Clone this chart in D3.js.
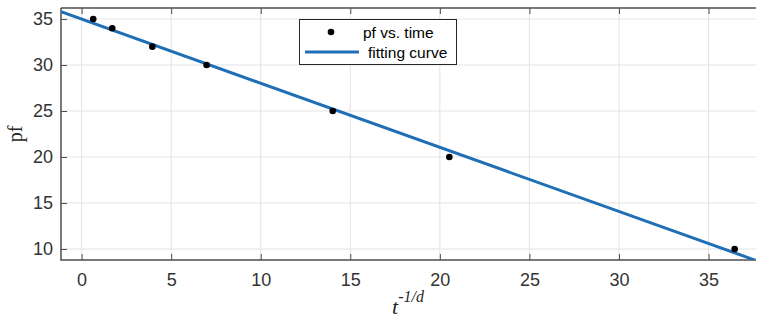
<!DOCTYPE html>
<html>
<head>
<meta charset="utf-8">
<script src="https://cdn.jsdelivr.net/npm/d3@7"></script>
<style>
  body { margin: 0; background: #fff; }
  svg { display: block; font-family: "Liberation Sans", Arial, sans-serif; }
</style>
</head>
<body>
<div id="chart"></div>
<script>
// measured points (pf vs. time)
const xData = [0.65, 1.71, 3.95, 6.98, 14.02, 20.53, 36.46];
const pfData = [35, 34, 32, 30, 25, 20, 10];
// fitted line: pf = a + b * x
const fitA = 34.99;
const fitB = -0.697;
const xTicks = [0, 5, 10, 15, 20, 25, 30, 35];
const yTicks = [10, 15, 20, 25, 30, 35];

const width = 758, height = 320;
const margin = { top: 8, right: 2, bottom: 60, left: 61 };

const svg = d3.select('#chart').append('svg')
  .attr('width', width)
  .attr('height', height);

const x = d3.scaleLinear()
  .domain([-1.15, 37.65])
  .range([margin.left, width - margin.right]);

const y = d3.scaleLinear()
  .domain([8.8, 36.2])
  .range([height - margin.bottom, margin.top]);

const axisColor = '#4d4d4d';
const x0 = margin.left, x1 = width - margin.right;
const y0 = height - margin.bottom, y1 = margin.top;

// grid
const grid = svg.append('g').attr('stroke', '#e3e3e3').attr('stroke-width', 1);
grid.selectAll('.vg').data(xTicks).join('line')
  .attr('x1', d => x(d)).attr('x2', d => x(d))
  .attr('y1', y1).attr('y2', y0);
grid.selectAll('.hg').data(yTicks).join('line')
  .attr('x1', x0).attr('x2', x1)
  .attr('y1', d => y(d)).attr('y2', d => y(d));

// axes (inward ticks, box style)
const tickSize = 6;
const axes = svg.append('g');

axes.append('g')
  .attr('transform', `translate(0,${y0})`)
  .call(d3.axisBottom(x).tickValues(xTicks).tickSize(-tickSize).tickPadding(13))
  .call(g => g.select('.domain').remove());

axes.append('g')
  .attr('transform', `translate(0,${y1})`)
  .call(d3.axisTop(x).tickValues(xTicks).tickSize(-tickSize).tickFormat(''))
  .call(g => g.select('.domain').remove());

axes.append('g')
  .attr('transform', `translate(${x0},0)`)
  .call(d3.axisLeft(y).tickValues(yTicks).tickSize(-tickSize).tickPadding(8))
  .call(g => g.select('.domain').remove());

axes.selectAll('.tick line').attr('stroke', axisColor);
axes.selectAll('.tick text')
  .attr('fill', '#333')
  .style('font-size', '18px');

// plot box edges
svg.append('path')
  .attr('d', `M${x0},${y1}H${x1}M${x0},${y1}V${y0}H${x1}`)
  .attr('fill', 'none')
  .attr('stroke', axisColor)
  .attr('stroke-width', 1.5);

// clip
svg.append('clipPath').attr('id', 'clip')
  .append('rect').attr('x', x0).attr('y', y1).attr('width', x1 - x0).attr('height', y0 - y1);

// fitting line
const fitX = x.domain();
svg.append('line')
  .attr('clip-path', 'url(#clip)')
  .attr('x1', x(fitX[0])).attr('y1', y(fitA + fitB * fitX[0]))
  .attr('x2', x(fitX[1])).attr('y2', y(fitA + fitB * fitX[1]))
  .attr('stroke', '#1f6fb6')
  .attr('stroke-width', 3);

// data points
svg.append('g').selectAll('circle')
  .data(xData.map((d, i) => ({ x: d, y: pfData[i] })))
  .join('circle')
  .attr('cx', d => x(d.x))
  .attr('cy', d => y(d.y))
  .attr('r', 3.3)
  .attr('fill', '#000');

// axis labels
svg.append('text')
  .attr('transform', `translate(22,${(y0 + y1) / 2}) rotate(-90)`)
  .attr('text-anchor', 'middle')
  .style('font-family', '"Liberation Serif", "Times New Roman", serif')
  .style('font-size', '20px')
  .attr('fill', '#262626')
  .text('pf');

const xl = svg.append('text')
  .attr('x', 392).attr('y', 314)
  .style('font-family', '"Liberation Serif", "Times New Roman", serif')
  .style('font-style', 'italic')
  .attr('fill', '#262626');
xl.append('tspan').style('font-size', '22px').text('t');
xl.append('tspan').attr('dy', -12).style('font-size', '16px').text('-1/d');

// legend
const lg = svg.append('g');
lg.append('rect')
  .attr('x', 299.5).attr('y', 19.5).attr('width', 157).attr('height', 45)
  .attr('fill', '#fff').attr('stroke', '#262626').attr('stroke-width', 1);
lg.append('circle').attr('cx', 331).attr('cy', 32).attr('r', 3.3).attr('fill', '#000');
lg.append('line').attr('x1', 305).attr('x2', 359).attr('y1', 52).attr('y2', 52)
  .attr('stroke', '#1f6fb6').attr('stroke-width', 3);
lg.append('text').attr('x', 363).attr('y', 37.5).style('font-size', '15.5px').attr('fill', '#000').text('pf vs. time');
lg.append('text').attr('x', 368).attr('y', 57.5).style('font-size', '15.5px').attr('fill', '#000').text('fitting curve');
</script>
</body>
</html>
